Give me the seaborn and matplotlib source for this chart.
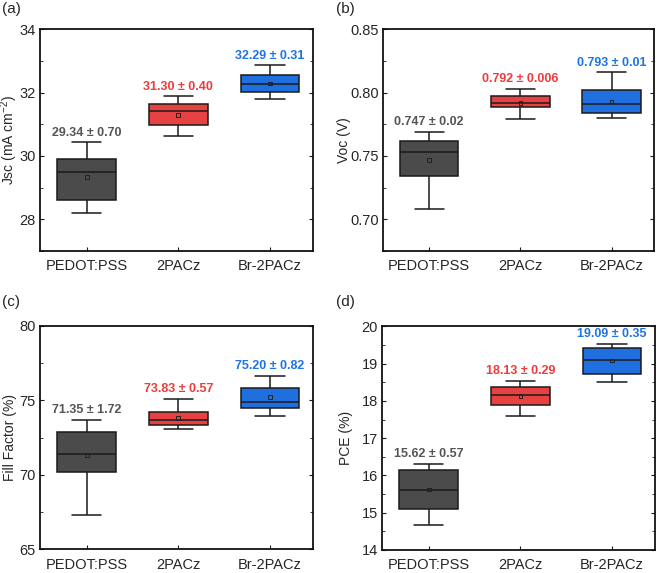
import numpy as np
import pandas as pd
import matplotlib.pyplot as plt
import seaborn as sns
from matplotlib.ticker import MultipleLocator

groups = ["PEDOT:PSS", "2PACz", "Br-2PACz"]
box_colors = ["#4b4b4b", "#e84142", "#1f6fdf"]
text_colors = ["#555555", "#ee3b3b", "#1c74e6"]

# five-number summaries (min, Q1, median, Q3, max)
jsc = [[28.21, 28.60, 29.49, 29.91, 30.44],
       [30.64, 30.97, 31.41, 31.65, 31.89],
       [31.79, 32.02, 32.26, 32.54, 32.86]]
jsc_mean = [29.34, 31.30, 32.29]
jsc_labels = ["29.34 ± 0.70", "31.30 ± 0.40", "32.29 ± 0.31"]

voc = [[0.708, 0.734, 0.753, 0.762, 0.769],
       [0.779, 0.789, 0.7915, 0.797, 0.803],
       [0.780, 0.784, 0.791, 0.802, 0.816]]
voc_mean = [0.747, 0.792, 0.793]
voc_labels = ["0.747 ± 0.02", "0.792 ± 0.006", "0.793 ± 0.01"]

ff = [[67.29, 70.20, 71.41, 72.85, 73.70],
      [73.09, 73.32, 73.70, 74.22, 75.09],
      [73.95, 74.49, 74.91, 75.85, 76.64]]
ff_mean = [71.35, 73.83, 75.20]
ff_labels = ["71.35 ± 1.72", "73.83 ± 0.57", "75.20 ± 0.82"]

pce = [[14.67, 15.09, 15.60, 16.15, 16.32],
       [17.60, 17.89, 18.16, 18.37, 18.54],
       [18.51, 18.73, 19.09, 19.42, 19.54]]
pce_mean = [15.62, 18.13, 19.09]
pce_labels = ["15.62 ± 0.57", "18.13 ± 0.29", "19.09 ± 0.35"]

sns.set_style("ticks")
plt.rcParams["font.family"] = ["Liberation Sans", "DejaVu Sans"]
plt.rcParams["mathtext.default"] = "regular"


def plot_panel(ax, stats, means, labels, ylabel, ylim, major, label_x, tag, tag_xy):
    df = pd.DataFrame({"Device": np.repeat(groups, 5),
                       "Value": np.concatenate(stats)})
    sns.boxplot(data=df, x="Device", y="Value", hue="Device", palette=box_colors,
                saturation=1, width=0.64, whis=np.inf, linecolor="#1a1a1a",
                linewidth=1.1, legend=False, ax=ax)
    ax.scatter(range(len(groups)), means, marker="s", s=7, facecolor="none",
               edgecolor="#222222", linewidth=0.7, zorder=5)
    for i, (s, lab) in enumerate(zip(stats, labels)):
        ax.annotate(lab, (i, max(s)), xytext=(0, 2.5), textcoords="offset points",
                    ha="center", va="bottom", color=text_colors[i],
                    fontweight="bold", fontsize=9)
    ax.set_xlim(-0.51, 2.47)
    ax.set_ylim(*ylim)
    ax.yaxis.set_major_locator(MultipleLocator(major))
    ax.yaxis.set_minor_locator(MultipleLocator(major / 2))
    ax.set_xlabel("")
    ax.set_ylabel(ylabel, fontsize=10)
    # label x is the right edge of the rotated text
    ax.yaxis.set_label_coords(label_x, 0.5)
    ax.tick_params(axis="both", which="both", direction="in", labelsize=10.5,
                   color="#1a1a1a")
    ax.tick_params(axis="y", which="major", length=3, right=True, pad=3)
    ax.tick_params(axis="y", which="minor", length=2, right=True)
    ax.tick_params(axis="x", length=3, pad=6, top=False)
    for sp in ax.spines.values():
        sp.set_visible(True)
        sp.set_linewidth(1.3)
        sp.set_color("#111111")
    ax.figure.text(tag_xy[0], tag_xy[1], tag, fontsize=11, va="top", ha="left")


fig = plt.figure(figsize=(6.61, 5.73), dpi=100)
ax_a = fig.add_axes([0.0605, 0.562, 0.413, 0.387])
ax_b = fig.add_axes([0.579, 0.562, 0.411, 0.387])
ax_c = fig.add_axes([0.0605, 0.0414, 0.413, 0.390])
ax_d = fig.add_axes([0.578, 0.0402, 0.413, 0.390])

plot_panel(ax_a, jsc, jsc_mean, jsc_labels, "Jsc (mA cm$^{-2}$)", (27, 34), 2,
           -0.072, "(a)", (0.003, 0.997))
plot_panel(ax_b, voc, voc_mean, voc_labels, "Voc (V)", (0.675, 0.85), 0.05,
           -0.118, "(b)", (0.508, 0.997))
plot_panel(ax_c, ff, ff_mean, ff_labels, "Fill Factor (%)", (65, 80), 5,
           -0.085, "(c)", (0.003, 0.485))
plot_panel(ax_d, pce, pce_mean, pce_labels, "PCE (%)", (14, 20), 1,
           -0.106, "(d)", (0.508, 0.485))

fig.savefig("out.png", dpi=100)
